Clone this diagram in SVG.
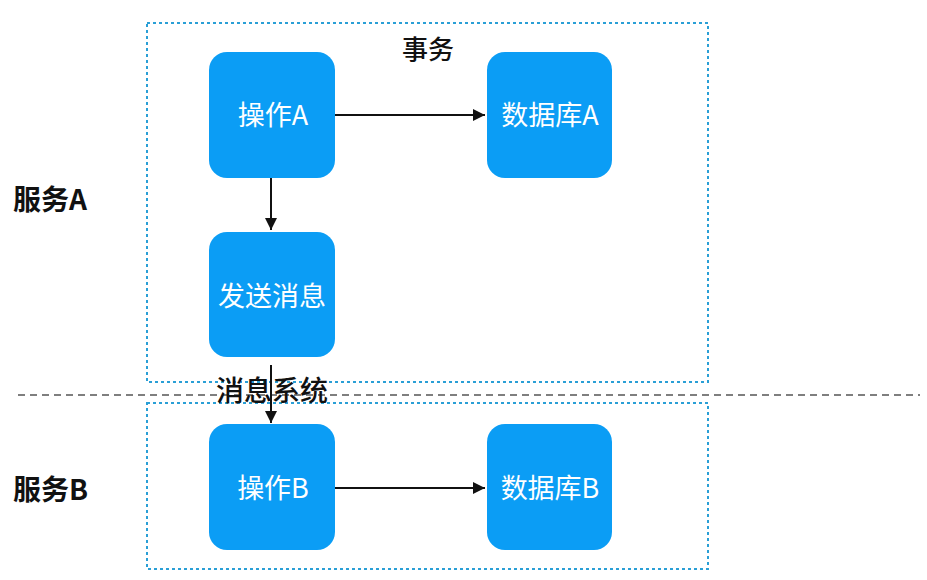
<svg xmlns="http://www.w3.org/2000/svg" width="927" height="580" viewBox="0 0 927 580">
<style>
.box{fill:#0b9df5;}
.nt{font-family:"Noto Sans CJK SC","Noto Sans",sans-serif;font-size:27px;fill:#fff;text-anchor:middle;dominant-baseline:central;}
.lbl{font-family:"Noto Sans CJK SC","Noto Sans",sans-serif;fill:#111;dominant-baseline:central;}
.frame{fill:none;stroke:#2a9fd6;stroke-width:2;stroke-dasharray:3 3;}
.conn{stroke:#111;stroke-width:2;fill:none;marker-end:url(#ah);}
</style>
<defs>
<marker id="ah" viewBox="0 0 10 10" refX="10" refY="5" markerWidth="6" markerHeight="6" orient="auto" markerUnits="strokeWidth">
<path d="M0,0 L10,5 L0,10 z" fill="#111"/>
</marker>
</defs>
<rect width="927" height="580" fill="#fff"/>
<g id="frames">
<rect class="frame" x="147" y="23" width="561" height="359"/>
<rect class="frame" x="147" y="403" width="561" height="166"/>
<line x1="18" y1="395" x2="920" y2="395" stroke="#555" stroke-width="1.3" stroke-dasharray="7 5"/>
</g>
<g id="labels">
<text class="lbl" x="428" y="47" text-anchor="middle" font-size="26" font-weight="500">事务</text>
<text class="lbl" x="13" y="198" font-size="28" font-weight="bold">服务A</text>
<text class="lbl" x="13" y="488" font-size="28" font-weight="bold">服务B</text>
<text class="lbl" x="272" y="389" text-anchor="middle" font-size="28" font-weight="500">消息系统</text>
</g>
<g id="n-opA"><rect class="box" x="209" y="52" width="126" height="126" rx="18"/><text class="nt" x="273" y="113">操作A</text></g>
<g id="n-dbA"><rect class="box" x="487" y="52" width="125" height="126" rx="18"/><text class="nt" x="550" y="113">数据库A</text></g>
<g id="n-send"><rect class="box" x="209" y="232" width="126" height="125" rx="18"/><text class="nt" x="272" y="294">发送消息</text></g>
<g id="n-opB"><rect class="box" x="209" y="424" width="126" height="126" rx="18"/><text class="nt" x="273" y="486">操作B</text></g>
<g id="n-dbB"><rect class="box" x="487" y="424" width="125" height="126" rx="18"/><text class="nt" x="550" y="486">数据库B</text></g>
<g id="connectors">
<line class="conn" x1="335" y1="115" x2="485" y2="115"/>
<line class="conn" x1="271" y1="178" x2="271" y2="230"/>
<line class="conn" x1="271" y1="365" x2="271" y2="423"/>
<line class="conn" x1="335" y1="488" x2="485" y2="488"/>
</g>
</svg>
